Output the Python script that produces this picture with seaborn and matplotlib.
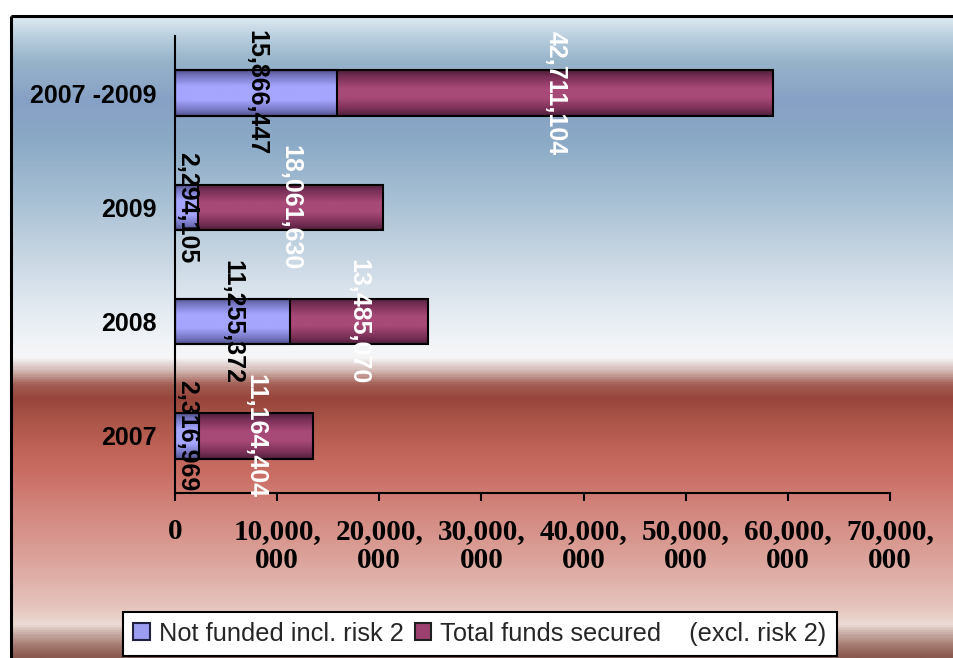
import numpy as np
import pandas as pd
import matplotlib
matplotlib.use("Agg")
import matplotlib.pyplot as plt
import seaborn as sns
from matplotlib.colors import LinearSegmentedColormap
from matplotlib.patches import Patch
from matplotlib import font_manager as fm
from matplotlib.ticker import FuncFormatter, FixedLocator

# ---------------- data ----------------
categories = ["2007 -2009", "2009", "2008", "2007"]
not_funded = [15866447, 2294105, 11255372, 2316969]
funds_secured = [42711104, 18061630, 13485070, 11164404]
series_names = ["Not funded incl. risk 2", "Total funds secured    (excl. risk 2)"]
x_ticks = [0, 10000000, 20000000, 30000000, 40000000, 50000000, 60000000, 70000000]

# ---------------- style ----------------
sns.set_theme(style="white")
names = {f.name for f in fm.fontManager.ttflist}


def pick(*cands):
    for n in cands:
        if n in names:
            return n
    return "DejaVu Sans"


NARROW = pick("Liberation Sans Narrow", "Liberation Sans", "DejaVu Sans")
NARROW_SIZE = 20 if NARROW == "Liberation Sans Narrow" else 18
SERIF = pick("Liberation Serif", "DejaVu Serif")
SANS = pick("Liberation Sans", "DejaVu Sans")
plt.rcParams["font.family"] = [SANS, "DejaVu Sans"]

W, H = 954, 658
fig = plt.figure(figsize=(W / 100, H / 100), dpi=100)
fig.patch.set_facecolor("white")

# background gradient (figure level)
bg = fig.add_axes([0, 0, 1, 1], zorder=-10)
bg_stops = [
    (16, "#dde9f1"), (40, "#b2c9da"), (60, "#97b3c9"), (100, "#87a0c5"),
    (140, "#8baac6"), (200, "#a8c0d4"), (250, "#c4d4e1"), (300, "#dfe7ef"),
    (345, "#f2f5f8"), (358, "#f6f6f7"), (370, "#d4bcb8"), (385, "#a35e54"),
    (398, "#97453b"), (420, "#aa5448"), (450, "#c06358"), (472, "#c96c62"),
    (500, "#d07f77"), (540, "#d8978f"), (580, "#dfb0a8"), (610, "#e6c6bf"),
    (626, "#ecdcd5"), (634, "#ccb2aa"), (646, "#a67d73"), (658, "#8a5a50"),
]
cmap_bg = LinearSegmentedColormap.from_list(
    "bg", [((y - 16) / (H - 16), c) for y, c in bg_stops])
grad = np.linspace(0, 1, 800).reshape(-1, 1)
bg.imshow(grad, cmap=cmap_bg, extent=[11, W + 2, H, 16], aspect="auto",
          origin="upper", interpolation="bilinear")
bg.plot([11, 11], [16, H + 2], color="black", lw=2.2, solid_capstyle="butt")
bg.plot([11, W + 2], [16, 16], color="black", lw=2.2, solid_capstyle="butt")
bg.set_xlim(0, W)
bg.set_ylim(H, 0)
bg.axis("off")

# main axes
ax = fig.add_axes([175 / W, 1 - 493 / H, (890 - 175) / W, (493 - 36) / H])
ax.patch.set_alpha(0)

df = pd.DataFrame({
    "Period": categories,
    "total": np.array(not_funded) + np.array(funds_secured),
    "nf": not_funded,
})

sns.barplot(data=df, y="Period", x="total", order=categories, orient="h",
            color="#a84a78", saturation=1, width=0.4, edgecolor="black",
            linewidth=1.5, errorbar=None, ax=ax)
sns.barplot(data=df, y="Period", x="nf", order=categories, orient="h",
            color="#a6a6ff", saturation=1, width=0.4, edgecolor="black",
            linewidth=1.5, errorbar=None, ax=ax)

cm_mag = LinearSegmentedColormap.from_list("mag", [
    (0, "#4e1e3a"), (0.15, "#7a3058"), (0.4, "#a84a78"), (0.6, "#a84a78"),
    (0.85, "#7a3058"), (1, "#4e1e3a")])
cm_blue = LinearSegmentedColormap.from_list("blu", [
    (0, "#50508a"), (0.12, "#7474c0"), (0.35, "#a6a6ff"), (0.65, "#a6a6ff"),
    (0.88, "#7474c0"), (1, "#50508a")])

bars = list(ax.patches)
n = len(categories)
for i, p in enumerate(bars):
    cm = cm_mag if i < n else cm_blue
    x0, y0 = p.get_x(), p.get_y()
    w, h = p.get_width(), p.get_height()
    im = ax.imshow(grad, cmap=cm, extent=[x0, x0 + w, y0 + h, y0],
                   aspect="auto", origin="upper", interpolation="bilinear",
                   zorder=2.2 + (0.1 if i >= n else 0))
    im.set_clip_path(p)
    p.set_facecolor("none")
    p.set_zorder(3)

ax.set_xlim(0, 70000000)
ax.set_ylim(len(categories) - 0.5, -0.5)

# data labels
for i, (a, b) in enumerate(zip(not_funded, funds_secured)):
    ax.text(a / 2, i, f"{a:,}", rotation=-90, ha="center", va="center",
            color="black", fontsize=NARROW_SIZE, fontweight="bold",
            family=NARROW, zorder=5, clip_on=False)
    ax.text(a + b / 2, i, f"{b:,}", rotation=-90, ha="center", va="center",
            color="white", fontsize=NARROW_SIZE, fontweight="bold",
            family=NARROW, zorder=5, clip_on=False)

# axes styling
for s in ["top", "right"]:
    ax.spines[s].set_visible(False)
for s in ["left", "bottom"]:
    ax.spines[s].set_color("black")
    ax.spines[s].set_linewidth(1.5)
ax.set_xlabel("")
ax.set_ylabel("")
ax.xaxis.set_major_locator(FixedLocator(x_ticks))


def fmt(v, _):
    if v == 0:
        return "0"
    s = f"{int(round(v)):,}"
    return s[:-3] + "\n" + s[-3:]


ax.xaxis.set_major_formatter(FuncFormatter(fmt))
ax.tick_params(axis="x", direction="out", length=6, width=1.5, color="black",
               pad=12, labelsize=21, bottom=True)
ax.tick_params(axis="y", length=0, pad=13, labelsize=NARROW_SIZE)
for lab in ax.get_xticklabels():
    lab.set_fontfamily(SERIF)
    lab.set_fontweight("bold")
    lab.set_color("black")
    lab.set_linespacing(1.1)
for lab in ax.get_yticklabels():
    lab.set_fontfamily(NARROW)
    lab.set_fontweight("bold")
    lab.set_color("black")

# legend
handles = [Patch(facecolor="#9c9cf0", edgecolor="#202040", lw=1.5),
           Patch(facecolor="#9c4070", edgecolor="#202020", lw=1.5)]
leg = fig.legend(handles, series_names, loc="lower left",
                 bbox_to_anchor=(123 / W, 2 / H), ncol=2, frameon=True,
                 fancybox=False, edgecolor="black", facecolor="white",
                 framealpha=1, fontsize=18.3, handlelength=0.65,
                 handleheight=0.65, handletextpad=0.35, columnspacing=0.45,
                 borderpad=0.4, borderaxespad=0)
leg.get_frame().set_linewidth(1.5)

fig.savefig("out.png", dpi=100)
